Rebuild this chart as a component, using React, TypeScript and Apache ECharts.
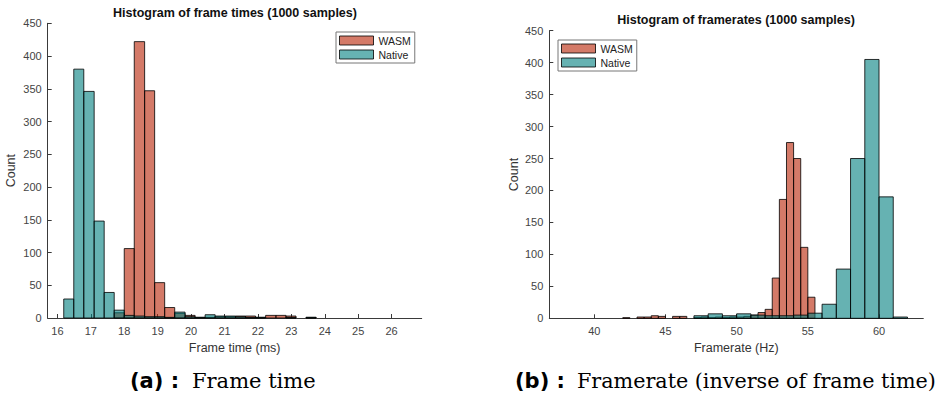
import React, { useEffect, useRef } from "react";
import * as echarts from "echarts";

// ---------- Data ----------
// Left: histogram of frame times (ms), shared bin edges
const frameTimeEdges = [
  16.19, 16.49, 16.79, 17.1, 17.4, 17.7, 18.0, 18.3, 18.61, 18.91, 19.21, 19.51, 19.82,
  20.12, 20.42, 20.72, 21.02, 21.33, 21.63, 21.93, 22.23, 22.54, 22.84, 23.14, 23.44, 23.74,
];
const frameTimeWasm = [0, 0, 0, 0, 0, 8, 106, 422, 347, 54, 16, 7, 4, 1, 1, 2, 2, 3, 3, 1, 4, 4, 3, 0, 1];
const frameTimeNative = [29, 380, 346, 148, 39, 12, 4, 3, 2, 2, 1, 9, 2, 1, 5, 3, 3, 2, 1, 1, 0, 0, 1, 0, 1];
const frameTimeTicks = [16, 17, 18, 19, 20, 21, 22, 23, 24, 25, 26];

// Right: histogram of framerates (Hz)
const rateWasmEdges = [
  42.0, 42.5, 43.0, 43.5, 44.0, 44.5, 45.0, 45.5, 46.0, 46.5, 47.0, 47.5, 48.0, 48.5,
  49.0, 49.5, 50.0, 50.5, 51.0, 51.5, 52.0, 52.5, 53.0, 53.5, 54.0, 54.5, 55.0, 55.5,
];
const rateWasm = [1, 0, 2, 2, 4, 3, 0, 3, 3, 0, 1, 2, 1, 2, 1, 2, 2, 3, 5, 9, 14, 63, 186, 275, 250, 111, 33];
const rateNativeEdges = [47, 48, 49, 50, 51, 52, 53, 54, 55, 56, 57, 58, 59, 60, 61, 62];
const rateNative = [4, 7, 4, 7, 5, 4, 4, 5, 8, 22, 77, 250, 405, 190, 2];
const rateTicks = [40, 45, 50, 55, 60];

const countTicksMax = 450;
const seriesNames = ["WASM", "Native"];

// ---------- Styles ----------
const WASM_FILL = "rgba(183,33,3,0.6)";
const NATIVE_FILL = "rgba(0,127,127,0.6)";
const EDGE = "rgba(0,0,0,0.8)";
const AXIS = "#3a3a3a";
const SANS = "'Liberation Sans', Arial, sans-serif";

function binsToData(edges: number[], counts: number[]) {
  return counts.map((c, i) => [edges[i], edges[i + 1], c]);
}

function makeRender(fill: string) {
  return (params: any, api: any) => {
    const x0 = api.value(0);
    const x1 = api.value(1);
    const c = api.value(2);
    if (!c) return null;
    const p0 = api.coord([x0, c]);
    const p1 = api.coord([x1, 0]);
    return {
      type: "rect",
      shape: { x: p0[0], y: p0[1], width: p1[0] - p0[0], height: p1[1] - p0[1] },
      style: { fill, stroke: EDGE, lineWidth: 1 },
    };
  };
}

function xAxisCfg(gridIndex: number, min: number, max: number, ticks: number[], name: string) {
  return {
    type: "value",
    gridIndex,
    min,
    max,
    name,
    nameLocation: "middle",
    nameGap: 23,
    nameTextStyle: { fontSize: 12.5, color: "#333", fontFamily: SANS },
    axisLine: { show: true, onZero: false, lineStyle: { color: AXIS, width: 1 } },
    axisTick: { show: true, inside: true, length: 4, customValues: ticks, lineStyle: { color: AXIS } },
    axisLabel: { customValues: ticks, fontSize: 11, color: "#444", margin: 7, fontFamily: SANS },
    splitLine: { show: false },
  };
}

function yAxisCfg(gridIndex: number, nameGap: number) {
  return {
    type: "value",
    gridIndex,
    min: 0,
    max: countTicksMax,
    interval: 50,
    name: "Count",
    nameLocation: "middle",
    nameGap,
    nameTextStyle: { fontSize: 12.5, color: "#333", fontFamily: SANS },
    axisLine: { show: true, lineStyle: { color: AXIS, width: 1 } },
    axisTick: { show: true, inside: true, length: 4, lineStyle: { color: AXIS } },
    axisLabel: { fontSize: 11, color: "#444", margin: 6, fontFamily: SANS },
    splitLine: { show: false },
  };
}

function legendCfg(left: number, top: number) {
  return {
    left,
    top,
    orient: "vertical",
    icon: "rect",
    itemWidth: 34,
    itemHeight: 9,
    itemGap: 3,
    padding: [3, 4, 3, 3],
    borderColor: "#777",
    borderWidth: 1,
    backgroundColor: "#fff",
    selectedMode: false,
    textStyle: { fontSize: 10.5, color: "#222", fontFamily: SANS, lineHeight: 11 },
    data: [
      { name: seriesNames[0], itemStyle: { color: WASM_FILL, borderColor: EDGE, borderWidth: 1 } },
      { name: seriesNames[1], itemStyle: { color: NATIVE_FILL, borderColor: EDGE, borderWidth: 1 } },
    ],
  };
}

export default function App() {
  const ref = useRef<HTMLDivElement>(null);
  useEffect(() => {
    if (!ref.current) return;
    const chart = echarts.init(ref.current, null, { renderer: "svg" });
    const option: any = {
      animation: false,
      backgroundColor: "#fff",
      title: [
        {
          text: "Histogram of frame times (1000 samples)",
          left: 235,
          top: 6,
          textAlign: "center",
          padding: 0,
          textStyle: { fontSize: 12.5, fontWeight: "bold", color: "#111", fontFamily: SANS },
        },
        {
          text: "Histogram of framerates (1000 samples)",
          left: 736,
          top: 13.5,
          textAlign: "center",
          padding: 0,
          textStyle: { fontSize: 12.5, fontWeight: "bold", color: "#111", fontFamily: SANS },
        },
      ],
      grid: [
        { left: 47.7, top: 23.3, width: 374, height: 294.7, containLabel: false },
        { left: 549.3, top: 30.7, width: 374, height: 287.6, containLabel: false },
      ],
      xAxis: [
        xAxisCfg(0, 15.71, 26.9, frameTimeTicks, "Frame time (ms)"),
        xAxisCfg(1, 36.84, 63.11, rateTicks, "Framerate (Hz)"),
      ],
      yAxis: [yAxisCfg(0, 30), yAxisCfg(1, 29)],
      legend: [legendCfg(336, 32), legendCfg(558, 40)],
      series: [
        {
          type: "custom",
          name: seriesNames[0],
          xAxisIndex: 0,
          yAxisIndex: 0,
          renderItem: makeRender(WASM_FILL),
          encode: { x: [0, 1], y: 2 },
          itemStyle: { color: WASM_FILL },
          data: binsToData(frameTimeEdges, frameTimeWasm),
        },
        {
          type: "custom",
          name: seriesNames[1],
          xAxisIndex: 0,
          yAxisIndex: 0,
          renderItem: makeRender(NATIVE_FILL),
          encode: { x: [0, 1], y: 2 },
          itemStyle: { color: NATIVE_FILL },
          data: binsToData(frameTimeEdges, frameTimeNative),
        },
        {
          type: "custom",
          name: seriesNames[0],
          xAxisIndex: 1,
          yAxisIndex: 1,
          renderItem: makeRender(WASM_FILL),
          encode: { x: [0, 1], y: 2 },
          itemStyle: { color: WASM_FILL },
          data: binsToData(rateWasmEdges, rateWasm),
        },
        {
          type: "custom",
          name: seriesNames[1],
          xAxisIndex: 1,
          yAxisIndex: 1,
          renderItem: makeRender(NATIVE_FILL),
          encode: { x: [0, 1], y: 2 },
          itemStyle: { color: NATIVE_FILL },
          data: binsToData(rateNativeEdges, rateNative),
        },
      ],
      graphic: [
        {
          type: "text",
          left: 130,
          top: 370,
          style: { text: "(a) :", font: "bold 21px 'DejaVu Sans', sans-serif", fill: "#000" },
        },
        {
          type: "text",
          left: 192,
          top: 370,
          style: { text: "Frame time", font: "21px 'DejaVu Serif', serif", fill: "#000" },
        },
        {
          type: "text",
          left: 515,
          top: 370,
          style: { text: "(b) :", font: "bold 21px 'DejaVu Sans', sans-serif", fill: "#000" },
        },
        {
          type: "text",
          left: 577,
          top: 370,
          style: { text: "Framerate (inverse of frame time)", font: "20.7px 'DejaVu Serif', serif", fill: "#000" },
        },
      ],
    };
    chart.setOption(option);
    return () => chart.dispose();
  }, []);
  return (
    <div
      ref={ref}
      style={{ position: "fixed", left: 0, top: 0, width: 939, height: 398, background: "#fff" }}
    />
  );
}
